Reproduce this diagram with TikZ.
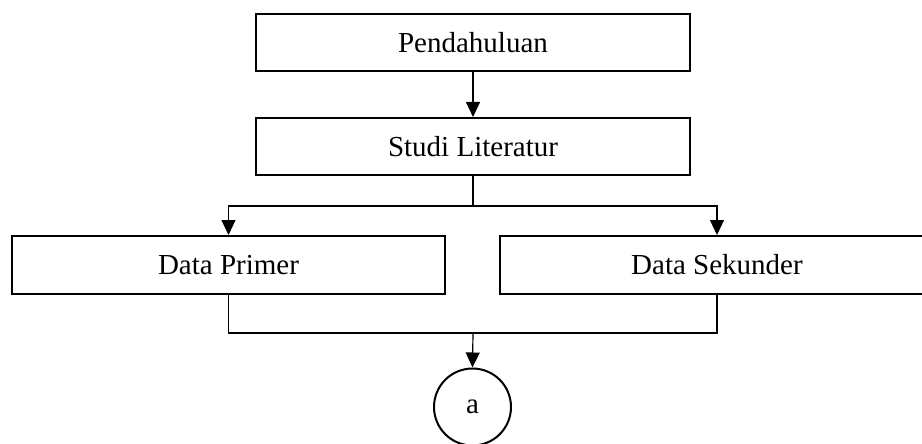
\documentclass[tikz,border=0pt]{standalone}
\usepackage{fontspec}
\setmainfont{Liberation Serif}
\usetikzlibrary{arrows.meta}
\begin{document}
\begin{tikzpicture}[x=1pt,y=-1pt,
  box/.style={draw, line width=2pt, minimum width=434pt, inner sep=0pt, font=\fontsize{29}{34}\selectfont},
  conn/.style={line width=1.2pt},
  arr/.style={conn, -{Triangle[length=15pt,width=14pt]}},
  term/.style={draw, circle, line width=2pt, minimum size=77pt, inner sep=0pt, font=\fontsize{29}{34}\selectfont}]
\clip (0,0) rectangle (922,444);
\fill[white] (0,0) rectangle (922,444);
\node[box, minimum height=57pt] (p) at (473,42.5) {Pendahuluan};
\node[box, minimum height=57pt] (s) at (473,146.5) {Studi Literatur};
\node[box, minimum height=58pt, minimum width=433pt] (dp) at (228.5,265) {Data Primer};
\node[box, minimum height=58pt] (ds) at (717,265) {Data Sekunder};
\node[term] (c) at (472.5,407) {a};
\coordinate (j1) at (473,206);
\coordinate (j2) at (473,333);
\draw[arr] (p.south) -- (s.north);
\draw[conn] (s.south) -- (j1);
\draw[arr] (j1) -| (dp.north);
\draw[arr] (j1) -| (ds.north);
\draw[conn] (dp.south) |- (j2);
\draw[conn] (ds.south) |- (j2);
\draw[arr] (j2) -- (c.north);
\end{tikzpicture}
\end{document}
